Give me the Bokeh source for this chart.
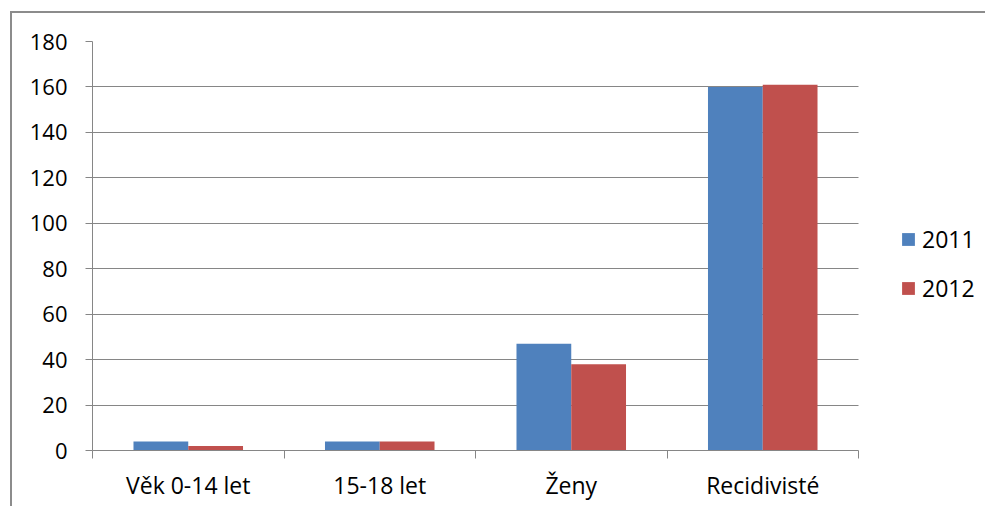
from bokeh.plotting import figure
from bokeh.models import (FixedTicker, LinearAxis, Range1d, Legend, LegendItem,
                          ColumnDataSource)
from bokeh.embed import file_html
from bokeh.resources import INLINE

categories = ["Věk 0-14 let", "15-18 let", "Ženy", "Recidivisté"]
series_names = ["2011", "2012"]
values_2011 = [4, 4, 47, 160]
values_2012 = [2, 4, 38, 161]
y_ticks = [0, 20, 40, 60, 80, 100, 120, 140, 160, 180]

BLUE = "#4F81BD"
RED = "#C0504D"
GRAY = "#868686"
FONT = "Open Sans"

n = len(categories)
centers = [i + 0.5 for i in range(n)]
bar_w = 0.286

W, H = 975, 495
LEFT, PLOT_W = 80, 766
# the frame is extended to the right so that the legend can sit inside it
x_end = (W - LEFT) / (PLOT_W / n)

p = figure(width=W, height=H, output_backend="svg", toolbar_location=None,
           x_range=Range1d(0, x_end), y_range=Range1d(y_ticks[0], y_ticks[-1]),
           x_axis_location=None, y_axis_location=None,
           min_border_left=LEFT, min_border_right=0,
           min_border_top=28, min_border_bottom=H - 437)
p.margin = (11, 0, 0, 10)
p.styles = {"border-left": "2px solid #8c8c8c", "border-top": "2px solid #8c8c8c"}
p.outline_line_color = None
p.background_fill_color = "white"
p.border_fill_color = "white"

src = ColumnDataSource(dict(
    x1=[c - bar_w / 2 for c in centers], x2=[c + bar_w / 2 for c in centers],
    v1=values_2011, v2=values_2012))
r1 = p.vbar(x="x1", top="v1", bottom=0, width=bar_w, source=src,
            fill_color=BLUE, line_color=None)
r2 = p.vbar(x="x2", top="v2", bottom=0, width=bar_w, source=src,
            fill_color=RED, line_color=None)

# y axis
yax = LinearAxis(ticker=FixedTicker(ticks=y_ticks, minor_ticks=[]))
yax.axis_line_color = GRAY
yax.major_tick_line_color = GRAY
yax.major_tick_out = 7
yax.major_tick_in = 0
yax.minor_tick_line_color = None
yax.major_label_standoff = 18
yax.major_label_text_font = FONT
yax.major_label_text_font_size = "22px"
yax.major_label_text_color = "black"
p.add_layout(yax, "left")

# x axis: labels at category centres, tick marks at category boundaries
xax = LinearAxis(ticker=FixedTicker(ticks=centers, minor_ticks=list(range(n + 1))),
                 bounds=(0, n))
xax.major_label_overrides = {c: lab for c, lab in zip(centers, categories)}
xax.axis_line_color = GRAY
xax.major_tick_line_color = None
xax.major_tick_out = 0
xax.major_tick_in = 0
xax.minor_tick_line_color = GRAY
xax.minor_tick_out = 8
xax.minor_tick_in = 0
xax.major_label_standoff = 10
xax.major_label_text_font = FONT
xax.major_label_text_font_size = "23px"
xax.major_label_text_color = "black"
p.add_layout(xax, "below")

p.xgrid.visible = False
p.ygrid[0].ticker = FixedTicker(ticks=y_ticks)
p.ygrid[0].cross_bounds = (0, n)
p.ygrid.grid_line_color = GRAY
p.ygrid.grid_line_width = 1

legend = Legend(items=[LegendItem(label=series_names[0], renderers=[r1]),
                       LegendItem(label=series_names[1], renderers=[r2])],
                location=(808, 146))
legend.glyph_width = 16
legend.glyph_height = 16
legend.label_height = 24
legend.label_standoff = 6
legend.spacing = 17
legend.padding = 0
legend.margin = 0
legend.border_line_color = None
legend.background_fill_alpha = 0
legend.label_text_font = FONT
legend.label_text_font_size = "23px"
legend.label_text_color = "black"
p.add_layout(legend, "center")

open("out.html", "w").write(file_html(p, INLINE))
